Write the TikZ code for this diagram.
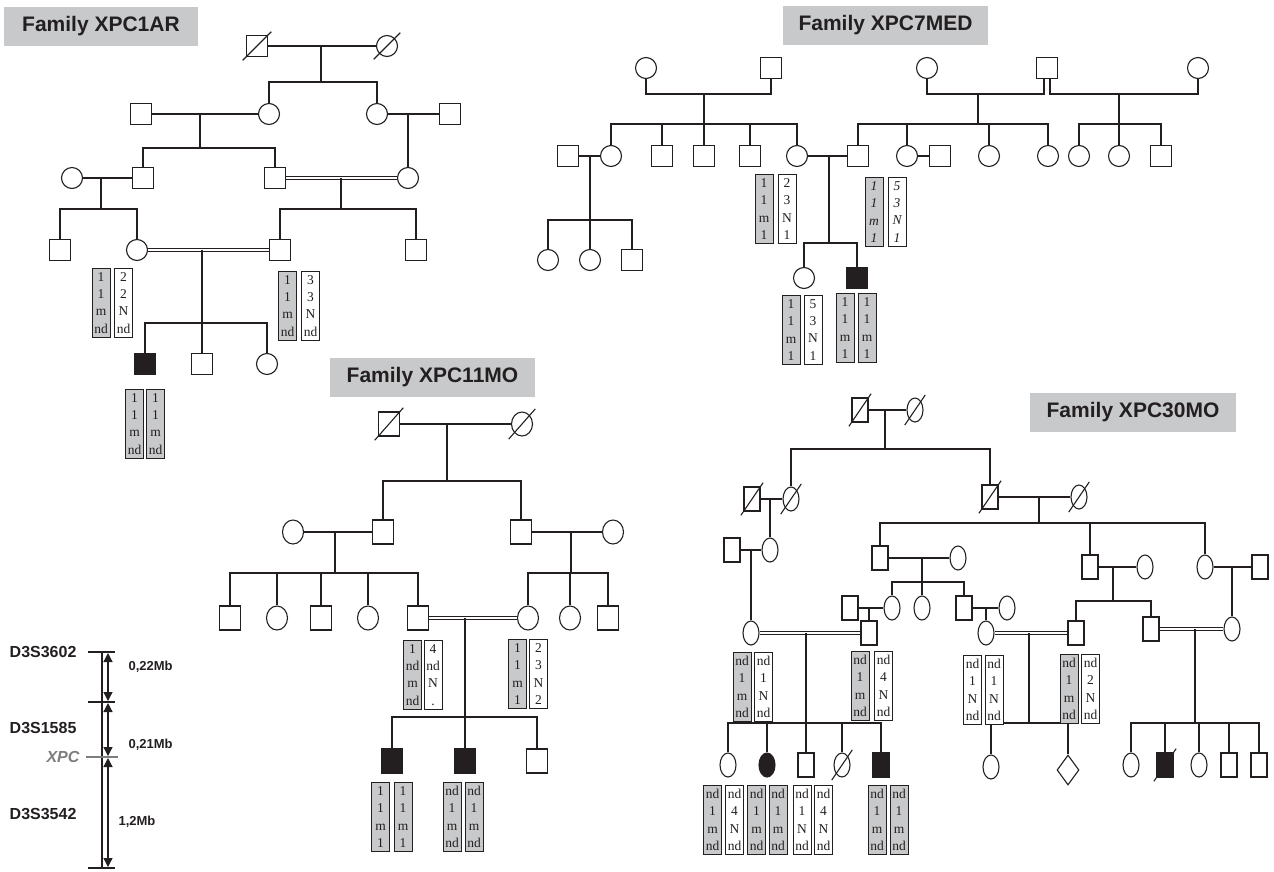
\documentclass[tikz,border=0pt]{standalone}
\usepackage{fontspec}
\setmainfont{Liberation Serif}
\setsansfont{Liberation Sans}
\usetikzlibrary{shapes.geometric,arrows.meta,calc}
\definecolor{ink}{RGB}{35,31,32}
\definecolor{boxgray}{RGB}{200,201,203}
\definecolor{xpcgray}{RGB}{125,125,127}
% slash through a deceased individual
\newcommand{\deceased}[2][1.3]{\draw ($(#2.center)!#1!(#2.south west)$) -- ($(#2.center)!#1!(#2.north east)$);}

\begin{document}
\begin{tikzpicture}[x=1pt, y=-1pt, color=ink, line width=1.1pt,
  male/.style={draw, rectangle, inner sep=0pt, minimum width=21pt, minimum height=21pt},
  female/.style={draw, ellipse, inner sep=0pt, minimum width=21pt, minimum height=21pt},
  affected/.style={fill=ink},
  unknown/.style={draw, diamond, inner sep=0pt, minimum width=22pt, minimum height=30pt},
  consang/.style={double=white, double distance=2.2pt},
  famlabel/.style={fill=boxgray, inner sep=0pt, minimum width=205pt, minimum height=39pt, font=\sffamily\bfseries\fontsize{21}{24}\selectfont},
  hap/.style={draw, fill=white, line width=0.9pt, anchor=north, inner sep=0pt, minimum width=18pt, minimum height=69pt, align=center, font=\fontsize{13.5}{17.2}\selectfont},
  haps/.style={hap, fill=boxgray},
  slant/.style={font=\fontsize{13.5}{17.2}\selectfont\itshape},
  marker/.style={font=\sffamily\bfseries\fontsize{16}{19}\selectfont, anchor=east, inner sep=0pt},
  dist/.style={font=\sffamily\bfseries\fontsize{13}{15}\selectfont, anchor=west, inner sep=0pt},
  tick/.style={line width=2pt},
  span/.style={{Triangle[length=9pt,width=9pt]}-{Triangle[length=9pt,width=9pt]}, line width=1.3pt, shorten <=1pt, shorten >=1pt}
]
\useasboundingbox (0,0) rectangle (1274,871);

% Family XPC1AR
\node[famlabel, minimum width=194pt] (arT) at (101,26.5) {Family XPC1AR};
\node[male] (ar1) at (257,46) {};
\node[female] (ar2) at (387,46) {};
\deceased{ar1} \deceased[1.7]{ar2}
\draw (ar1) -- (ar2);
\coordinate (arS1) at (321,82);
\draw (arS1 |- ar1) -- (arS1);
\node[male] (ar3) at (141,114) {};
\node[female] (ar4) at (269,114) {};
\node[female] (ar5) at (377,114) {};
\node[male] (ar6) at (450,114) {};
\draw (ar4) |- (arS1) -| (ar5);
\draw (ar3) -- (ar4);
\draw (ar5) -- (ar6);
\coordinate (arS2) at (200,148);
\draw (arS2 |- ar3) -- (arS2);
\node[female] (ar7) at (72,178) {};
\node[male] (ar8) at (143,178) {};
\node[male] (ar9) at (275,178) {};
\node[female] (ar10) at (408,178) {};
\draw (ar8) |- (arS2) -| (ar9);
\draw (ar10) -- (ar10 |- ar5);
\draw (ar7) -- (ar8);
\draw[consang] (ar9) -- (ar10);
\coordinate (arS3) at (101,209);
\coordinate (arS4) at (341,209);
\draw (arS3 |- ar7) -- (arS3);
\draw (arS4 |- ar9) -- (arS4);
\node[male] (ar11) at (60,250) {};
\node[female] (ar12) at (137,250) {};
\node[male] (ar13) at (280,250) {};
\node[male] (ar14) at (416,250) {};
\draw (ar11) |- (arS3) -| (ar12);
\draw (ar13) |- (arS4) -| (ar14);
\draw[consang] (ar12) -- (ar13);
\coordinate (arS5) at (202,323);
\node[male, affected] (ar15) at (145,364) {};
\node[male] (ar16) at (202,364) {};
\node[female] (ar17) at (267,364) {};
\draw (arS5 |- ar12) -- (ar16);
\draw (ar15) |- (arS5) -| (ar17);
\node[haps] (arH1) at (101,268) {1\\1\\m\\nd};
\node[hap] (arH2) at (123.5,268) {2\\2\\N\\nd};
\node[haps] (arH3) at (287.5,271) {1\\1\\m\\nd};
\node[hap] (arH4) at (310.5,271) {3\\3\\N\\nd};
\node[haps] (arH5) at (134.5,389) {1\\1\\m\\nd};
\node[haps] (arH6) at (155.5,389) {1\\1\\m\\nd};

% Family XPC7MED
\node[famlabel] (medT) at (885.5,25.5) {Family XPC7MED};
\node[female] (med1) at (646,68) {};
\node[male] (med2) at (771,68) {};
\node[female] (med3) at (927,68) {};
\node[male] (med4) at (1047,68) {};
\node[female] (med5) at (1198,68) {};
\coordinate (medU1) at (704,94);
\coordinate (medU2) at (978,94);
\coordinate (medU3) at (1119,94);
\draw (med1) |- (medU1) -| (med2);
\draw (med3) |- (medU2) -| ([xshift=-3pt]med4.south);
\draw ([xshift=3pt]med4.south) |- (medU3) -| (med5);
\coordinate (medS1) at (704,124);
\coordinate (medS2) at (978,124);
\coordinate (medS3) at (1119,124);
\draw (medU1) -- (medS1);
\draw (medU2) -- (medS2);
\draw (medU3) -- (medS3);
\node[male] (med6) at (568,156) {};
\node[female] (med7) at (611,156) {};
\node[male] (med8) at (662,156) {};
\node[male] (med9) at (704,156) {};
\node[male] (med10) at (750,156) {};
\node[female] (med11) at (797,156) {};
\node[male] (med12) at (858,156) {};
\node[female] (med13) at (907,156) {};
\node[male] (med14) at (940,156) {};
\node[female] (med15) at (989,156) {};
\node[female] (med16) at (1048,156) {};
\node[female] (med17) at (1079,156) {};
\node[female] (med18) at (1119,156) {};
\node[male] (med19) at (1161,156) {};
\draw (med7) |- (medS1) -| (med11);
\foreach \kid in {med8,med9,med10} \draw (\kid) -- (\kid |- medS1);
\draw (med12) |- (medS2) -| (med16);
\foreach \kid in {med13,med15} \draw (\kid) -- (\kid |- medS2);
\draw (med17) |- (medS3) -| (med19);
\draw (med18) -- (medS3);
\draw (med6) -- (med7);
\draw (med13) -- (med14);
\draw (med11) -- (med12);
\coordinate (medS4) at (590,220);
\coordinate (medS5) at (829,243);
\draw (medS4 |- med6) -- (medS4);
\draw (medS5 |- med11) -- (medS5);
\node[female] (med20) at (548,260) {};
\node[female] (med21) at (590,260) {};
\node[male] (med22) at (632,260) {};
\draw (med20) |- (medS4) -| (med22);
\draw (med21) -- (medS4);
\node[female] (med23) at (804,278) {};
\node[male, affected] (med24) at (857,278) {};
\draw (med23) |- (medS5) -| (med24);
\node[haps] (medH1) at (764,174) {1\\1\\m\\1};
\node[hap] (medH2) at (787,174) {2\\3\\N\\1};
\node[haps, slant] (medH3) at (874,177) {1\\1\\m\\1};
\node[hap, slant] (medH4) at (897,177) {5\\3\\N\\1};
\node[haps] (medH5) at (791,295) {1\\1\\m\\1};
\node[hap] (medH6) at (813,295) {5\\3\\N\\1};
\node[haps] (medH7) at (845,293) {1\\1\\m\\1};
\node[haps] (medH8) at (867,293) {1\\1\\m\\1};

% Family XPC11MO
\begin{scope}[male/.append style={minimum height=24pt}, female/.append style={minimum height=24pt}]
\node[famlabel] (moT) at (432.5,377.5) {Family XPC11MO};
\node[male] (mo1) at (389,424) {};
\node[female] (mo2) at (522,424) {};
\deceased{mo1} \deceased[1.7]{mo2}
\draw (mo1) -- (mo2);
\coordinate (moS1) at (447,481);
\draw (moS1 |- mo1) -- (moS1);
\node[female] (mo3) at (293,532) {};
\node[male] (mo4) at (383,532) {};
\node[male] (mo5) at (521,532) {};
\node[female] (mo6) at (613,532) {};
\draw (mo4) |- (moS1) -| (mo5);
\draw (mo3) -- (mo4);
\draw (mo5) -- (mo6);
\coordinate (moS2) at (335,573);
\coordinate (moS3) at (571,573);
\draw (moS2 |- mo3) -- (moS2);
\draw (moS3 |- mo5) -- (moS3);
\node[male] (mo7) at (230,618) {};
\node[female] (mo8) at (277,618) {};
\node[male] (mo9) at (321,618) {};
\node[female] (mo10) at (368,618) {};
\node[male] (mo11) at (418,618) {};
\node[female] (mo12) at (528,618) {};
\node[female] (mo13) at (570,618) {};
\node[male] (mo14) at (608,618) {};
\draw (mo7) |- (moS2) -| (mo11);
\foreach \kid in {mo8,mo9,mo10} \draw (\kid) -- (\kid |- moS2);
\draw (mo12) |- (moS3) -| (mo14);
\draw (mo13) -- (mo13 |- moS3);
\draw[consang] (mo11) -- (mo12);
\coordinate (moS4) at (465,717);
\draw (moS4 |- mo11) -- (moS4);
\node[male, affected] (mo15) at (392,761) {};
\node[male, affected] (mo16) at (465,761) {};
\node[male] (mo17) at (537,761) {};
\draw (mo15) |- (moS4) -| (mo17);
\draw (mo16) -- (moS4);
\end{scope}
\node[haps] (moH1) at (412.5,640) {1\\nd\\m\\nd};
\node[hap] (moH2) at (433,640) {4\\nd\\N\\.};
\node[haps] (moH3) at (517.5,639) {1\\1\\m\\1};
\node[hap] (moH4) at (538.5,639) {2\\3\\N\\2};
\node[haps] (moH5) at (380.5,782) {1\\1\\m\\1};
\node[haps] (moH6) at (403,782) {1\\1\\m\\1};
\node[haps] (moH7) at (452,782) {nd\\1\\m\\nd};
\node[haps] (moH8) at (474,782) {nd\\1\\m\\nd};

% Family XPC30MO
\begin{scope}[male/.append style={minimum width=16pt, minimum height=24pt}, female/.append style={minimum width=16pt, minimum height=24pt}]
\node[famlabel, minimum width=206pt] (thT) at (1133,412.5) {Family XPC30MO};
\node[male] (th1) at (860,410) {};
\node[female] (th2) at (915,410) {};
\deceased{th1} \deceased[1.7]{th2}
\draw (th1) -- (th2);
\coordinate (thS1) at (885,449);
\draw (thS1 |- th1) -- (thS1);
\node[male] (th3) at (752,499) {};
\node[female] (th4) at (791,499) {};
\node[male] (th5) at (990,497) {};
\node[female] (th6) at (1079,497) {};
\deceased{th3} \deceased[1.7]{th4} \deceased{th5} \deceased[1.7]{th6}
\draw (th4) |- (thS1) -| (th5);
\draw (th3) -- (th4);
\draw (th5) -- (th6);
\coordinate (thS2) at (1039,523);
\draw (thS2 |- th5) -- (thS2);
\node[male] (th7) at (732,550) {};
\node[female] (th8) at (770,550) {};
\draw (th8) -- (th8 |- th3);
\draw (th7) -- (th8);
\node[male] (th9) at (880,558) {};
\node[female] (th10) at (958,558) {};
\node[male] (th11) at (1090,567) {};
\node[female] (th12) at (1145,567) {};
\node[female] (th13) at (1205,567) {};
\node[male] (th14) at (1260,567) {};
\draw (th9) |- (thS2) -| (th13);
\draw (th11) -- (th11 |- thS2);
\draw (th9) -- (th10);
\draw (th11) -- (th12);
\draw (th13) -- (th14);
\coordinate (thS3) at (922,582);
\draw (thS3 |- th9) -- (thS3);
\node[male] (th15) at (850,608) {};
\node[female] (th16) at (892,608) {};
\node[female] (th17) at (922,608) {};
\node[male] (th18) at (964,608) {};
\node[female] (th19) at (1007,608) {};
\draw (th16) |- (thS3) -| (th18);
\draw (th17) -- (thS3);
\draw (th15) -- (th16);
\draw (th18) -- (th19);
\coordinate (thS4) at (1113,601);
\draw (thS4 |- th11) -- (thS4);
\node[female] (th20) at (751,633) {};
\node[male] (th21) at (869,633) {};
\node[female] (th22) at (986,633) {};
\node[male] (th23) at (1076,633) {};
\node[male] (th24) at (1151,629) {};
\node[female] (th25) at (1232,629) {};
\draw (th20) -- (th20 |- th7);
\draw (th21) -- (th21 |- th15);
\draw (th22) -- (th22 |- th18);
\draw (th23) |- (thS4) -| (th24);
\draw (th25) -- (th25 |- th13);
\draw[consang] (th20) -- (th21);
\draw[consang] (th22) -- (th23);
\draw[consang] (th24) -- (th25);
\coordinate (thS5) at (806,723);
\coordinate (thS6) at (1029,723);
\coordinate (thS7) at (1195,723);
\draw (thS5 |- th20) -- (thS5);
\draw (thS6 |- th22) -- (thS6);
\draw (thS7 |- th24) -- (thS7);
\node[female] (th26) at (728,765) {};
\node[female, affected] (th27) at (767,765) {};
\node[male] (th28) at (806,765) {};
\node[female] (th29) at (842,765) {};
\node[male, affected] (th30) at (881,765) {};
\deceased[1.7]{th29}
\draw (th26) |- (thS5) -| (th30);
\foreach \kid in {th27,th28,th29} \draw (\kid) -- (\kid |- thS5);
\node[female] (th31) at (991,767) {};
\node[unknown] (th32) at (1068,770) {};
\draw (th31) |- (thS6) -| (th32);
\node[female] (th33) at (1131,765) {};
\node[male, affected] (th34) at (1165,765) {};
\node[female] (th35) at (1199,765) {};
\node[male] (th36) at (1229,765) {};
\node[male] (th37) at (1259,765) {};
\deceased{th34}
\draw (th33) |- (thS7) -| (th37);
\foreach \kid in {th34,th35,th36} \draw (\kid) -- (\kid |- thS7);
\end{scope}
\node[haps] (thH1) at (742,652) {nd\\1\\m\\nd};
\node[hap] (thH2) at (763.5,652) {nd\\1\\N\\nd};
\node[haps] (thH3) at (860,651) {nd\\1\\m\\nd};
\node[hap] (thH4) at (883.5,651) {nd\\4\\N\\nd};
\node[hap] (thH5) at (972.5,655) {nd\\1\\N\\nd};
\node[hap] (thH6) at (994,655) {nd\\1\\N\\nd};
\node[haps] (thH7) at (1069,654) {nd\\1\\m\\nd};
\node[hap] (thH8) at (1090.5,654) {nd\\2\\N\\nd};
\node[haps] (thH9) at (712.5,785) {nd\\1\\m\\nd};
\node[hap] (thH10) at (734.5,785) {nd\\4\\N\\nd};
\node[haps] (thH11) at (756.5,785) {nd\\1\\m\\nd};
\node[haps] (thH12) at (778,785) {nd\\1\\m\\nd};
\node[hap] (thH13) at (802,785) {nd\\1\\N\\nd};
\node[hap] (thH14) at (823.5,785) {nd\\4\\N\\nd};
\node[haps] (thH15) at (877,785) {nd\\1\\m\\nd};
\node[haps] (thH16) at (899,785) {nd\\1\\m\\nd};

% Marker map
\coordinate (mk1) at (102,652);
\coordinate (mk2) at (102,702);
\coordinate (mkX) at (102,757);
\coordinate (mk3) at (102,868);
\draw[line width=2.2pt] (mk1) -- (mk3);
\foreach \m in {mk1,mk2,mk3} \draw[tick] ([xshift=-14pt]\m) -- ([xshift=13pt]\m);
\draw[tick, xpcgray] ([xshift=-16pt]mkX) -- ([xshift=16pt]mkX);
\draw[span] ([xshift=6pt]mk1) -- ([xshift=6pt]mk2);
\draw[span] ([xshift=6pt]mk2) -- ([xshift=6pt]mkX);
\draw[span] ([xshift=6pt]mkX) -- ([xshift=6pt]mk3);
\node[marker] (mkL1) at (77,652) {D3S3602};
\node[marker] (mkL2) at (77,728) {D3S1585};
\node[marker] (mkL3) at (77,814) {D3S3542};
\node[marker, xpcgray, font=\sffamily\bfseries\itshape\fontsize{16}{19}\selectfont] (mkLX) at (80,757) {XPC};
\node[dist] (mkD1) at (128,667) {0,22Mb};
\node[dist] (mkD2) at (128,745) {0,21Mb};
\node[dist] (mkD3) at (118,822) {1,2Mb};
\end{tikzpicture}
\end{document}
